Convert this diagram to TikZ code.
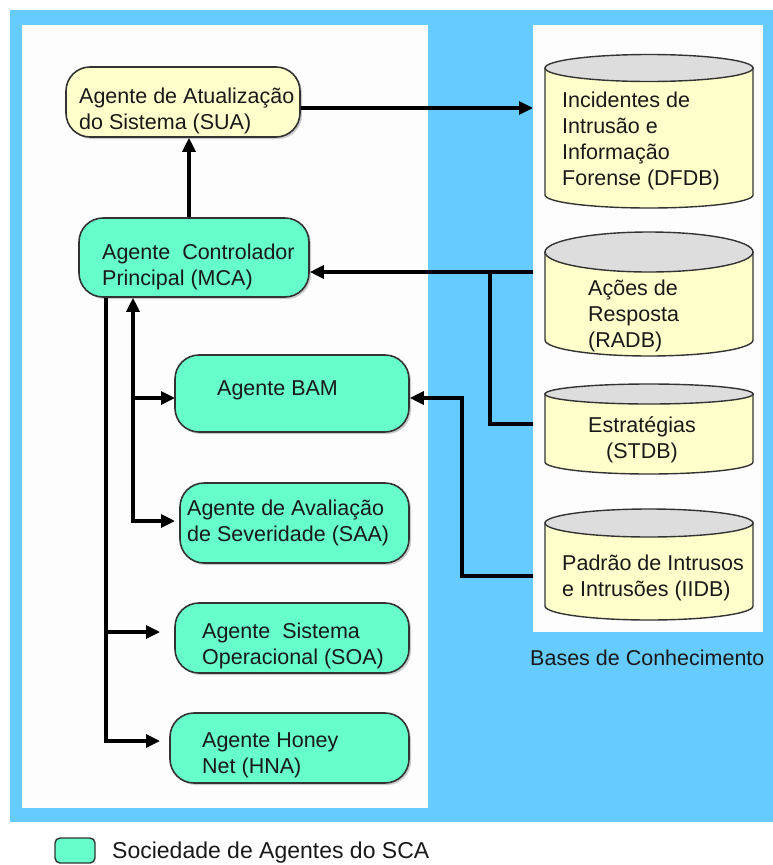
\documentclass[tikz,border=0pt]{standalone}
\usepackage{fontspec}
\setmainfont{Liberation Sans}
\usetikzlibrary{arrows.meta,shadows}
\definecolor{bgblue}{HTML}{66CCFF}
\definecolor{panelw}{HTML}{FDFDFD}
\definecolor{agteal}{HTML}{66FFCC}
\definecolor{agyellow}{HTML}{FFFFCC}
\definecolor{dbgray}{HTML}{DDDDDD}
\definecolor{outl}{HTML}{333333}
\newcommand\lft[1]{\vtop{\halign{##\hfil\cr#1\crcr}}}
\newcommand\ctr[1]{\vtop{\halign{\hfil##\hfil\cr#1\crcr}}}
\newcommand\dbcyl[6]{% x1 x2 ytop rytop ybot rybot
  \path[dbbody] (#1,#3) -- (#1,#5)
    .. controls (#1,{#5+0.5523*#6}) and ({(#1+#2)/2-0.5523*(#2-#1)/2},{#5+#6}) .. ({(#1+#2)/2},{#5+#6})
    .. controls ({(#1+#2)/2+0.5523*(#2-#1)/2},{#5+#6}) and (#2,{#5+0.5523*#6}) .. (#2,#5)
    -- (#2,#3) -- cycle;
  \path[dbtop] ({(#1+#2)/2},#3) ellipse [x radius={(#2-#1)/2*1pt}, y radius={#4*1pt}];
}
\begin{document}
\begin{tikzpicture}[x=1pt,y=-1pt,
  agent/.style={draw=outl, line width=1.6pt, rounded corners=24pt, fill=agteal,
    drop shadow={shadow xshift=2pt, shadow yshift=-2pt, fill=gray, opacity=0.4}},
  agenty/.style={agent, fill=agyellow},
  dbbody/.style={draw=outl, line width=1.4pt, fill=agyellow},
  dbtop/.style={draw=outl, line width=1.4pt, fill=dbgray},
  txt/.style={font=\fontsize{21.5}{26}\selectfont, inner sep=0pt, anchor=base west, text=black!90},
  conn/.style={line width=3.2pt, black},
  arr/.style={conn, -{Triangle[length=14pt,width=13pt]}},
  dblarr/.style={conn, {Triangle[length=14pt,width=13pt]}-{Triangle[length=14pt,width=13pt]}}]
\useasboundingbox (0,0) rectangle (773,865);
\fill[white] (0,0) rectangle (773,865);
\fill[bgblue] (10,10) rectangle (773,822);
\fill[panelw] (22,25) rectangle (428,808);
\fill[panelw] (533,25) rectangle (763,632);

% knowledge bases
\dbcyl{545}{753}{68}{13.5}{195}{13}
\dbcyl{545}{753}{252}{20}{340}{16}
\dbcyl{545}{753}{394}{10}{462}{12}
\dbcyl{545}{753}{523}{14}{606}{14}
\node[txt] (dfdb) at (562,107) {\lft{Incidentes de\cr Intrusão e\cr Informação\cr Forense (DFDB)}};
\node[txt] (radb) at (588,295) {\lft{Ações de\cr Resposta\cr (RADB)}};
\node[txt, anchor=base] (stdb) at (642,432) {\ctr{Estratégias\cr (STDB)}};
\node[txt] (iidb) at (562,570) {\lft{Padrão de Intrusos\cr e Intrusões (IIDB)}};
\node[txt] (bases) at (530,665) {Bases de Conhecimento};

% agents
\node[agenty, minimum width=234pt, minimum height=70pt] (sua) at (183,102) {};
\node[agent, minimum width=230pt, minimum height=79pt] (mca) at (194,257.5) {};
\node[agent, minimum width=234pt, minimum height=77pt] (bam) at (292,393.5) {};
\node[agent, minimum width=229pt, minimum height=80pt] (saa) at (294.5,523) {};
\node[agent, minimum width=234pt, minimum height=70pt] (soa) at (292,638) {};
\node[agent, minimum width=239pt, minimum height=70pt] (hna) at (289.5,748) {};
\node[txt] (suat) at (79,103) {\lft{Agente de Atualização\cr do Sistema (SUA)}};
\node[txt] (mcat) at (102,259) {\lft{Agente~ Controlador\cr Principal (MCA)}};
\node[txt] (bamt) at (217,395) {Agente BAM};
\node[txt] (saat) at (187,515) {\lft{Agente de Avaliação\cr de Severidade (SAA)}};
\node[txt] (soat) at (202,638) {\lft{Agente~ Sistema\cr Operacional (SOA)}};
\node[txt] (hnat) at (202,747) {\lft{Agente Honey\cr Net (HNA)}};

% legend
\node[draw=outl, line width=1.4pt, rounded corners=5pt, fill=agteal, minimum width=40pt, minimum height=25pt] (leg) at (75,850.5) {};
\node[txt, font=\fontsize{23}{28}\selectfont] (legt) at (112,858) {Sociedade de Agentes do SCA};

% connector points
\coordinate (dfdbin) at (533,108);
\coordinate (radbin) at (533,272);
\coordinate (stdbin) at (533,424);
\coordinate (iidbin) at (533,576);
\coordinate (xsua) at (189,0);
\coordinate (j1) at (490,272);
\coordinate (j2) at (462,398);
\coordinate (t1) at (106,0);
\coordinate (t2) at (133,0);
\coordinate (bamin) at (175,398);
\coordinate (saain) at (175,521);
\coordinate (soain) at (160,632);
\coordinate (hnain) at (160,741);

% connectors
\draw[arr] (sua.east |- dfdbin) -- (dfdbin);
\draw[arr] (mca.north -| xsua) -- (sua.south -| xsua);
\draw[arr] (radbin) -- (radbin -| mca.east);
\draw[conn] (stdbin) -- (stdbin -| j1) -- (j1);
\draw[arr] (iidbin) -- (iidbin -| j2) -- (j2) -- (j2 -| bam.east);
\draw[arr] (mca.south -| t1) |- (hnain);
\draw[arr] (soain -| t1) -- (soain);
\draw[dblarr] (saain) -| (mca.south -| t2);
\draw[arr] (bamin -| t2) -- (bamin);
\end{tikzpicture}
\end{document}
